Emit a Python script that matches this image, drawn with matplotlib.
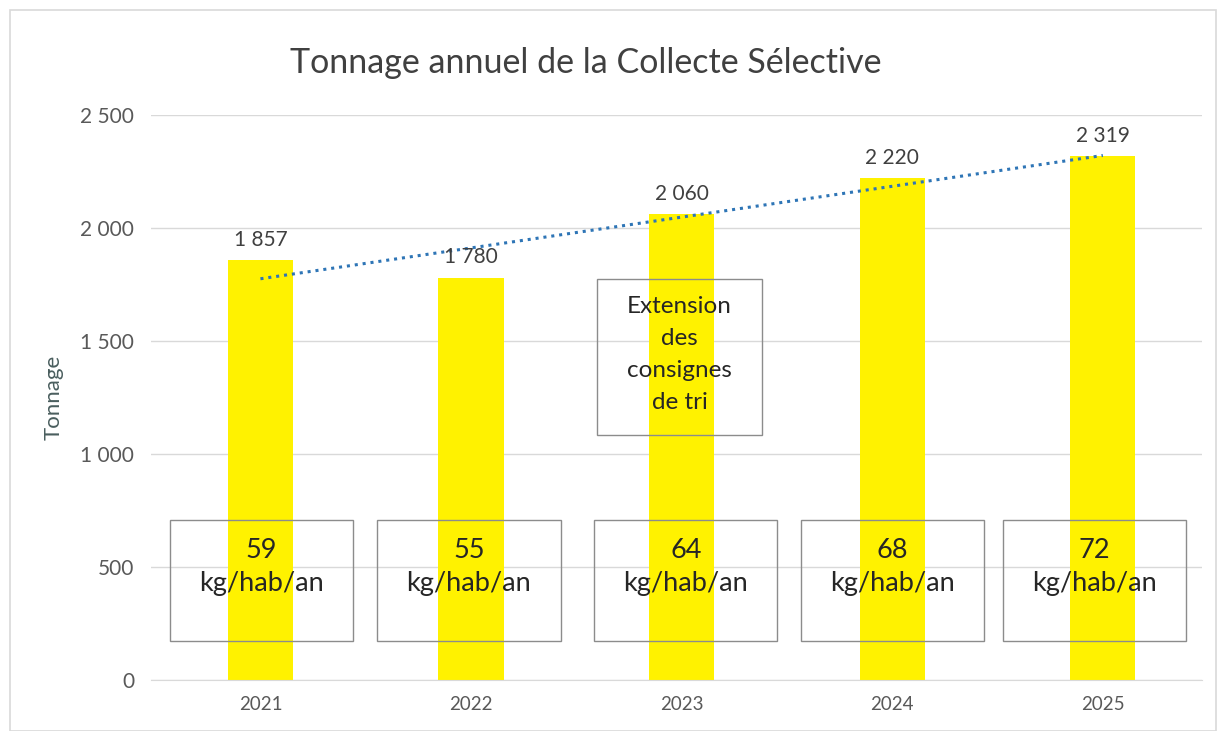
import numpy as np
import matplotlib.pyplot as plt
from matplotlib.patches import Rectangle

plt.rcParams['font.family'] = ['Lato', 'DejaVu Sans']

# donnees
annees = ['2021', '2022', '2023', '2024', '2025']
tonnage = [1857, 1780, 2060, 2220, 2319]
ratio = [59, 55, 64, 68, 72]
etiquettes_y = ['0', '500', '1 000', '1 500', '2 000', '2 500']
note_2023 = 'Extension\ndes\nconsignes\nde tri'

def sep(v):
    return f'{v:,}'.replace(',', ' ')

x = np.arange(len(annees))

fig = plt.figure(figsize=(12.22, 7.31), dpi=100)
ax = fig.add_axes([0.1235, 0.07, 0.86, 0.773])

# cadre du graphique (style Excel)
fig.patches.append(Rectangle((0.008, 0.0), 0.987, 0.986, transform=fig.transFigure,
                             fill=False, edgecolor='#d9d9d9', linewidth=1.2))

ax.bar(x, tonnage, width=0.31, color='#fff200', zorder=2)

# courbe de tendance lineaire
p = np.polyfit(x, tonnage, 1)
ax.plot(x, np.polyval(p, x), linestyle=(0, (1, 1.6)), color='#2e75b6', linewidth=2.2, zorder=4)

for xi, v in zip(x, tonnage):
    ax.text(xi, v + 45, sep(v), ha='center', va='bottom', fontsize=15, color='#404040', zorder=5)

# encadres kg/hab/an
decal = [0.005, -0.01, 0.02, 0.0, -0.04]
for xi, r, d in zip(x, ratio, decal):
    ax.add_patch(Rectangle((xi + d - 0.435, 170), 0.87, 535, fill=False,
                           edgecolor='#8c8c8c', linewidth=1.0, zorder=3))
    ax.text(xi + d, 500, f'{r}\nkg/hab/an', ha='center', va='center', fontsize=19.5,
            color='#262626', linespacing=1.4, zorder=5)

ax.add_patch(Rectangle((2 - 0.40, 1085), 0.78, 690, fill=False,
                       edgecolor='#8c8c8c', linewidth=1.0, zorder=3))
ax.text(1.99, 1440, note_2023, ha='center', va='center', fontsize=17.5,
        color='#262626', linespacing=1.65, zorder=5)

ax.set_xlim(-0.52, 4.47)
ax.set_ylim(0, 2500)
ax.set_yticks(np.arange(0, 2501, 500))
ax.set_yticklabels(etiquettes_y)
ax.set_xticks(x)
ax.set_xticklabels(annees)
ax.grid(axis='y', color='#d9d9d9', linewidth=1.0, zorder=0)
ax.tick_params(length=0, labelsize=13.5, colors='#595959', pad=12)
ax.tick_params(axis='y', labelsize=15)
for s in ax.spines.values():
    s.set_visible(False)
ax.spines['bottom'].set_visible(True)
ax.spines['bottom'].set_color('#d9d9d9')

ax.set_ylabel('Tonnage', fontsize=16, color='#4a5e5e', labelpad=12)
fig.suptitle('Tonnage annuel de la Collecte Sélective', fontsize=24.5, color='#404040',
             x=0.479, y=0.914, va='center')

plt.savefig('out.png')
plt.close()
